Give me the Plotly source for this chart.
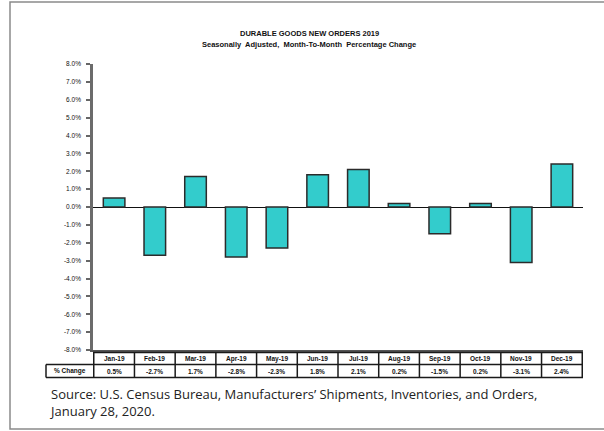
import plotly.graph_objects as go

months = ["Jan-19", "Feb-19", "Mar-19", "Apr-19", "May-19", "Jun-19",
          "Jul-19", "Aug-19", "Sep-19", "Oct-19", "Nov-19", "Dec-19"]
pct_change = [0.5, -2.7, 1.7, -2.8, -2.3, 1.8, 2.1, 0.2, -1.5, 0.2, -3.1, 2.4]
y_ticks = [-8, -7, -6, -5, -4, -3, -2, -1, 0, 1, 2, 3, 4, 5, 6, 7, 8]
title = "DURABLE GOODS NEW ORDERS 2019"
subtitle = "Seasonally  Adjusted,  Month-To-Month  Percentage Change"
row_label = "% Change"
source = ("Source: U.S. Census Bureau, Manufacturers\u2019 Shipments, Inventories, and Orders,"
          "<br>January 28, 2020.")

W, H = 604, 431
L, R, T, B = 93, 21, 64, 81
PW, PH = W - L - R, H - T - B

def px(x):
    return (x - L) / PW

def py(y):
    return (H - B - y) / PH

FONT = "Liberation Sans"

fig = go.Figure()
fig.add_trace(go.Bar(
    x=months, y=pct_change,
    marker=dict(color="#33CCCC", line=dict(color="#2b2b2b", width=1.5)),
    hoverinfo="x+y",
))

shapes = []
annotations = []

# outer frame
shapes.append(dict(type="rect", xref="paper", yref="paper",
                   x0=px(10), x1=px(640), y0=py(429), y1=py(2),
                   line=dict(color="#8a8a8a", width=1.5), layer="below"))

# table grid
y_top, y_mid, y_bot = 352.5, 364.5, 377.5
line_style = dict(color="#1a1a1a", width=1.5)
shapes.append(dict(type="line", xref="paper", yref="paper",
                   x0=0, x1=1, y0=py(y_top), y1=py(y_top), line=line_style))
for yy in (y_mid, y_bot):
    shapes.append(dict(type="line", xref="paper", yref="paper",
                       x0=px(46), x1=1, y0=py(yy), y1=py(yy), line=line_style))
for i in range(len(months) + 1):
    shapes.append(dict(type="line", xref="x", yref="paper",
                       x0=i - 0.5, x1=i - 0.5, y0=py(y_top), y1=py(y_bot),
                       line=line_style))
shapes.append(dict(type="line", xref="paper", yref="paper",
                   x0=px(46), x1=px(46), y0=py(y_mid), y1=py(y_bot), line=line_style))

cell_font = dict(family=FONT, size=6.5, color="#111")
for m, v in zip(months, pct_change):
    annotations.append(dict(x=m, xref="x", y=py((y_top + y_mid) / 2), yref="paper",
                            text="<b>%s</b>" % m, showarrow=False, font=cell_font,
                            xanchor="center", yanchor="middle"))
    annotations.append(dict(x=m, xref="x", y=py((y_mid + y_bot) / 2), yref="paper",
                            text="<b>%.1f%%</b>" % v, showarrow=False, font=cell_font,
                            xanchor="center", yanchor="middle"))
annotations.append(dict(x=px(69.5), xref="paper", y=py((y_mid + y_bot) / 2), yref="paper",
                        text="<b>%s</b>" % row_label, showarrow=False, font=cell_font,
                        xanchor="center", yanchor="middle"))

# titles
annotations.append(dict(x=px(309), xref="paper", y=py(33), yref="paper",
                        text="<b>%s</b>" % title, showarrow=False,
                        font=dict(family=FONT, size=7.5, color="#111"),
                        xanchor="center", yanchor="middle"))
annotations.append(dict(x=px(309), xref="paper", y=py(45), yref="paper",
                        text="<b>%s</b>" % subtitle, showarrow=False,
                        font=dict(family=FONT, size=7.5, color="#111"),
                        xanchor="center", yanchor="middle"))

# source
annotations.append(dict(x=px(47), xref="paper", y=py(383), yref="paper",
                        text=source, showarrow=False, align="left",
                        font=dict(family="Open Sans", size=13, color="#222"),
                        xanchor="left", yanchor="top"))

fig.update_layout(
    width=W, height=H,
    margin=dict(l=L, r=R, t=T, b=B),
    paper_bgcolor="white", plot_bgcolor="white",
    bargap=0.47,
    showlegend=False,
    shapes=shapes,
    annotations=annotations,
    xaxis=dict(type="category", showticklabels=False, ticks="",
               showline=True, linecolor="#555", linewidth=1.5,
               showgrid=False, zeroline=False),
    yaxis=dict(range=[-8, 8], tickvals=y_ticks,
               ticktext=["%.1f%%" % t for t in y_ticks],
               ticks="outside", ticklen=4, tickwidth=1.5, tickcolor="#666",
               showline=True, linecolor="#6b6b6b", linewidth=2.5,
               showgrid=False, zeroline=True, zerolinecolor="#111", zerolinewidth=1.2,
               tickfont=dict(family=FONT, size=6.5, color="#111"),
               ticklabelstandoff=4),
)

fig.write_html("out.html")
